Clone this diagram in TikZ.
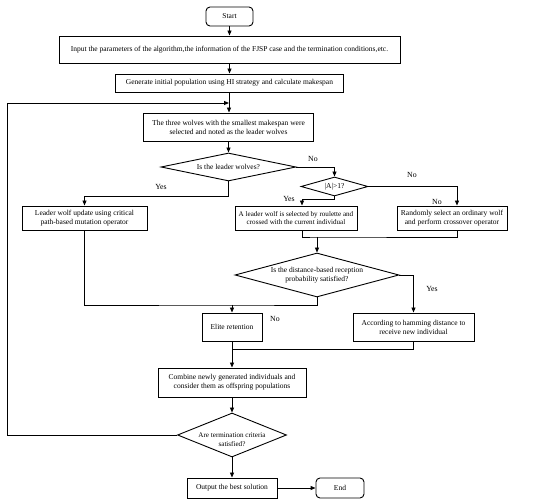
\documentclass[tikz,border=0pt]{standalone}
\usepackage{fontspec}
\setmainfont{Liberation Serif}
\usetikzlibrary{shapes.geometric,arrows.meta}
\begin{document}
\begin{tikzpicture}[x=1pt,y=-1pt,
  every node/.style={font=\fontsize{7.5}{9}\selectfont, inner sep=0pt, align=center},
  small/.style={font=\fontsize{7.1}{8.8}\selectfont},
  box/.style={draw, line width=0.9pt, rectangle},
  term/.style={draw, line width=0.9pt, rectangle, rounded corners=4pt},
  dec/.style={draw, line width=0.9pt, diamond, inner xsep=-6pt},
  lbl/.style={font=\fontsize{7.8}{9}\selectfont},
  conn/.style={line width=0.9pt},
  arr/.style={line width=0.9pt, -{Triangle[length=5pt,width=4pt]}}]
\path[use as bounding box] (0,0) rectangle (550,502);
% nodes
\node[term, minimum width=47pt, minimum height=19pt] (start) at (229.5,16.5) {Start};
\node[box, minimum width=341pt, minimum height=27pt] (input) at (229.5,49.5) {Input the parameters of the algorithm,the information of the FJSP case and the termination conditions,etc.};
\node[box, minimum width=228pt, minimum height=18pt] (gen) at (229.5,83) {Generate initial population using HI strategy and calculate makespan};
\node[box, minimum width=170pt, minimum height=28pt] (leader) at (228.5,127) {The three wolves with the smallest makespan were\\selected and noted as the leader wolves};
\node[dec, aspect=4.8, minimum width=135pt, minimum height=28pt] (d1) at (228.5,167) {Is the leader wolves?};
\node[dec, aspect=3.5, minimum width=67pt, minimum height=19pt] (d2) at (334.5,186.5) {|A|>1?};
\node[box, minimum width=125pt, minimum height=24pt] (lw) at (84.5,218) {Leader wolf update using critical\\path-based mutation operator};
\node[box, small, minimum width=122pt, minimum height=24pt] (roul) at (296,218) {A leader wolf is selected by roulette and\\crossed with the current individual};
\node[box, minimum width=110pt, minimum height=24pt] (rand) at (452,218) {Randomly select an ordinary wolf\\and perform crossover operator};
\node[dec, aspect=3.7, minimum width=164pt, minimum height=44pt] (d3) at (317,275) {Is the distance-based reception\\probability satisfied?};
\node[box, minimum width=60pt, minimum height=28pt] (elite) at (232,327) {Elite retention};
\node[box, minimum width=121pt, minimum height=28pt] (ham) at (413.5,327) {According to hamming distance to\\receive new individual};
\node[box, minimum width=148pt, minimum height=29pt] (comb) at (232,382.5) {Combine newly generated individuals and\\consider them as offspring populations};
\node[dec, aspect=2.48, minimum width=109pt, minimum height=44pt] (d4) at (232,435) {};
\node[small] (d4t) at (232,439.5) {Are termination criteria\\satisfied?};
\node[box, minimum width=90pt, minimum height=20pt] (out) at (232,488) {Output the best solution};
\node[term, minimum width=48pt, minimum height=20pt] (end) at (340,488) {End};
% labels
\node[lbl] (l1) at (313,159) {No};
\node[lbl] (l2) at (161,187) {Yes};
\node[lbl] (l3) at (412,175) {No};
\node[lbl] (l4) at (289,199) {Yes};
\node[lbl] (l5) at (437,202) {No};
\node[lbl] (l6) at (432,289) {Yes};
\node[lbl] (l7) at (275,319) {No};
% helper coordinates
\coordinate (j1) at (229,103);
\coordinate (j2) at (317,237);
\coordinate (j3) at (232,305);
\coordinate (j4) at (232,349);
\coordinate (lp) at (7,103);
% connectors
\draw[arr] (start) -- (input);
\draw[arr] (input.south -| start) -- (gen.north -| start);
\draw[arr] (gen.south -| j1) -- (leader.north -| j1);
\draw[arr] (leader.south -| d1) -- (d1.north);
\draw[arr] (d1.east) -| (d2.north);
\draw[arr] (d1.south) -- ++(0,15) -| (lw.north);
\draw[arr] (d2.south) -- ++(0,3.5) -| ([xshift=6pt]roul.north);
\draw[arr] (d2.east) -| ([xshift=5pt]rand.north);
\draw[conn] ([xshift=6pt]roul.south) |- (j2) -| ([xshift=5pt]rand.south);
\draw[arr] (j2) -- (d3.north);
\draw[conn] (lw.south) |- (j3) -| (d3.south);
\draw[arr] (j3) -- (elite.north);
\draw[arr] (d3.east) -| (ham.north);
\draw[conn] (ham.south) |- (j4);
\draw[arr] (elite.south) -- (comb.north);
\draw[arr] (comb.south) -- (d4.north);
\draw[arr] (d4.west) -| (lp) -- (j1);
\draw[arr] (d4.south) -- (out.north);
\draw[arr] (out.east) -- (end.west);
\end{tikzpicture}
\end{document}
